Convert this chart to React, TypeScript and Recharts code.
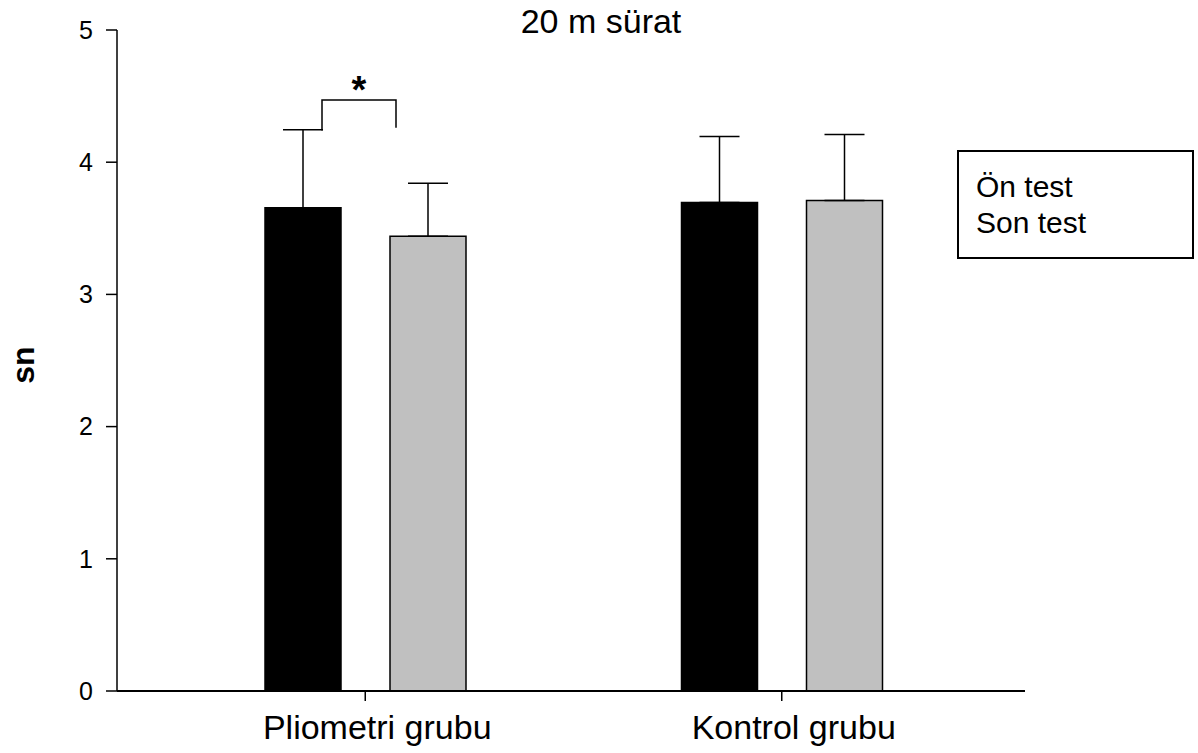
import { BarChart, Bar, XAxis, YAxis, ErrorBar, Legend } from "recharts";

const groups = ["Pliometri grubu", "Kontrol grubu"];
const onTest = [3.655, 3.695];
const onTestSd = [0.59, 0.5];
const sonTest = [3.44, 3.71];
const sonTestSd = [0.4, 0.5];
const yTicks = [0, 1, 2, 3, 4, 5];
const seriesNames = ["Ön test", "Son test"];
// significance bracket on the first group: top, left leg end, right leg end
const bracket = [4.47, 4.24, 4.26];

const data = groups.map((name, i) => ({
    name,
    on: onTest[i],
    onErr: [0, onTestSd[i]],
    son: sonTest[i],
    sonErr: [0, sonTestSd[i]],
}));

const font = '"Liberation Sans", Arial, sans-serif';
const BAR_GAP = 49;

function GroupTick(props: any) {
    const { x, y, payload } = props;
    return (
        <text x={x + 12} y={y + 36} textAnchor="middle" fontSize={34} fontFamily={font} fill="#000">
            {payload.value}
        </text>
    );
}

function SigBracket(props: any) {
    const { x, y, width, height, value, index } = props;
    if (index !== 0) return null;
    const zero = y + height;
    const k = height / value;
    const top = zero - bracket[0] * k;
    const lx = x + width * 0.75;
    const rx = x + width + BAR_GAP + 6;
    return (
        <g>
            <path
                d={`M${lx},${zero - bracket[1] * k} L${lx},${top} L${rx},${top} L${rx},${zero - bracket[2] * k}`}
                fill="none"
                stroke="#000"
                strokeWidth={1.5}
            />
            <text x={(lx + rx) / 2} y={top + 3} textAnchor="middle" fontSize={38} fontWeight="bold" fontFamily={font}>
                *
            </text>
        </g>
    );
}

function LegendBox() {
    return (
        <div
            style={{
                boxSizing: "border-box",
                width: 237,
                height: 109,
                border: "2px solid #000",
                padding: "17px 0 0 17px",
                fontFamily: font,
                fontSize: 30,
                lineHeight: "36px",
                color: "#000",
                background: "#fff",
            }}
        >
            {seriesNames.map((n) => (
                <div key={n}>{n}</div>
            ))}
        </div>
    );
}

export default function App() {
    return (
        <div style={{ position: "absolute", left: 0, top: 0, width: 1198, height: 753, background: "#fff" }}>
            <BarChart
                width={1198}
                height={753}
                data={data}
                margin={{ top: 30, right: 173, bottom: 2, left: 0 }}
                barSize={76}
                barGap={BAR_GAP}
            >
                <XAxis
                    dataKey="name"
                    height={60}
                    padding={{ left: 40, right: 35 }}
                    tickSize={10}
                    axisLine={{ stroke: "#000", strokeWidth: 2 }}
                    tickLine={{ stroke: "#000", strokeWidth: 1.5 }}
                    tick={<GroupTick />}
                />
                <YAxis
                    width={117}
                    domain={[0, 5]}
                    ticks={yTicks}
                    interval={0}
                    tickSize={11}
                    tickMargin={13}
                    axisLine={{ stroke: "#000", strokeWidth: 1.5 }}
                    tickLine={{ stroke: "#000", strokeWidth: 1.5 }}
                    tick={{ fill: "#000", fontSize: 25, fontFamily: font }}
                />
                <Legend
                    layout="vertical"
                    align="center"
                    verticalAlign="middle"
                    wrapperStyle={{ left: 957, top: 150, width: 237, height: 109 }}
                    content={<LegendBox />}
                />
                <Bar dataKey="on" name={seriesNames[0]} fill="#000" stroke="#000" strokeWidth={1.5} isAnimationActive={false} label={<SigBracket />}>
                    <ErrorBar dataKey="onErr" width={20} stroke="#000" strokeWidth={1.5} direction="y" />
                </Bar>
                <Bar dataKey="son" name={seriesNames[1]} fill="#c0c0c0" stroke="#000" strokeWidth={1.5} isAnimationActive={false}>
                    <ErrorBar dataKey="sonErr" width={20} stroke="#000" strokeWidth={1.5} direction="y" />
                </Bar>
            </BarChart>
            <svg width={1198} height={753} style={{ position: "absolute", left: 0, top: 0, pointerEvents: "none" }}>
                <text x={601} y={33} textAnchor="middle" fontSize={34} fontFamily={font} fill="#000">
                    20 m sürat
                </text>
                <text transform="translate(34,365) rotate(-90)" textAnchor="middle" fontSize={32} fontWeight="bold" fontFamily={font} fill="#000">
                    sn
                </text>
            </svg>
        </div>
    );
}
